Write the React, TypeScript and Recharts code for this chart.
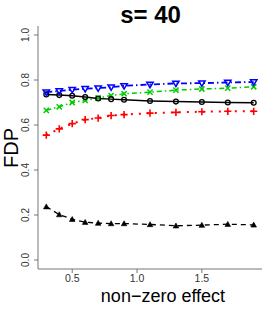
import { CartesianGrid, Line, LineChart, XAxis, YAxis } from 'recharts';

const effects = [0.3, 0.4, 0.5, 0.6, 0.7, 0.8, 0.9, 1.1, 1.3, 1.5, 1.7, 1.9];
const blueFdp = [0.746, 0.751, 0.757, 0.761, 0.764, 0.768, 0.774, 0.78, 0.785, 0.786, 0.789, 0.791];
const greenFdp = [0.665, 0.681, 0.7, 0.709, 0.72, 0.731, 0.739, 0.746, 0.755, 0.76, 0.764, 0.77];
const blackFdp = [0.736, 0.733, 0.73, 0.724, 0.718, 0.715, 0.712, 0.707, 0.704, 0.702, 0.7, 0.699];
const redFdp = [0.555, 0.583, 0.606, 0.624, 0.631, 0.642, 0.646, 0.653, 0.656, 0.659, 0.661, 0.661];
const triFdp = [0.237, 0.202, 0.181, 0.168, 0.164, 0.162, 0.162, 0.158, 0.152, 0.155, 0.159, 0.156];

const xTicks = [0.5, 1.0, 1.5];
const yTicks = [0, 0.2, 0.4, 0.6, 0.8, 1.0];

const data = effects.map((x, i) => ({
  x,
  blue: blueFdp[i],
  green: greenFdp[i],
  black: blackFdp[i],
  red: redFdp[i],
  tri: triFdp[i],
}));

const FONT = '"Liberation Sans", Arial, sans-serif';
const AXIS = '#777';

type DotProps = { cx?: number; cy?: number; index?: number };

const circleDot = ({ cx = 0, cy = 0, index }: DotProps) => (
  <circle key={`c${index}`} cx={cx} cy={cy} r={2.4} fill="none" stroke="#000" strokeWidth={1.3} />
);

const downTriDot = ({ cx = 0, cy = 0, index }: DotProps) => (
  <path
    key={`d${index}`}
    d={`M${cx - 3.2},${cy - 2.2} L${cx + 3.2},${cy - 2.2} L${cx},${cy + 3.2} Z`}
    fill="none"
    stroke="#0000ff"
    strokeWidth={1.5}
  />
);

const crossDot = ({ cx = 0, cy = 0, index }: DotProps) => (
  <path
    key={`x${index}`}
    d={`M${cx - 2.6},${cy - 2.6} L${cx + 2.6},${cy + 2.6} M${cx - 2.6},${cy + 2.6} L${cx + 2.6},${cy - 2.6}`}
    stroke="#00cd00"
    strokeWidth={1.5}
  />
);

const plusDot = ({ cx = 0, cy = 0, index }: DotProps) => (
  <path
    key={`p${index}`}
    d={`M${cx - 3.6},${cy} L${cx + 3.6},${cy} M${cx},${cy - 3.6} L${cx},${cy + 3.6}`}
    stroke="#ff0000"
    strokeWidth={1.6}
  />
);

const triDot = ({ cx = 0, cy = 0, index }: DotProps) => (
  <path
    key={`t${index}`}
    d={`M${cx - 2.8},${cy + 2.2} L${cx + 2.8},${cy + 2.2} L${cx},${cy - 2.8} Z`}
    fill="#000"
    stroke="#000"
    strokeWidth={0.6}
  />
);

const YTick = ({ x = 0, y = 0, payload }: { x?: number; y?: number; payload?: { value: number } }) => (
  <text
    transform={`translate(${x - 3.5},${y}) rotate(-90)`}
    textAnchor="middle"
    fontSize={10}
    fontFamily={FONT}
    fill="#333"
  >
    {payload ? payload.value.toFixed(1) : ''}
  </text>
);

export default function App() {
  return (
    <div style={{ position: 'absolute', left: 0, top: 0, width: 266, height: 310, background: '#fff', fontFamily: FONT }}>
      <LineChart width={266} height={310} data={data} margin={{ top: 26, right: 4, bottom: 0, left: 0 }}>
        <CartesianGrid horizontal={false} vertical={false} />
        <XAxis
          dataKey="x"
          type="number"
          domain={[0.236, 1.964]}
          ticks={xTicks}
          tickFormatter={(v: number) => v.toFixed(1)}
          height={41}
          tickSize={4}
          stroke={AXIS}
          tick={{ fontSize: 10.5, fill: '#333', fontFamily: FONT }}
          allowDataOverflow
        />
        <XAxis xAxisId="top" dataKey="x" type="number" domain={[0.236, 1.964]} orientation="top" height={0} tick={false} tickLine={false} stroke={AXIS} />
        <YAxis
          type="number"
          domain={[-0.04, 1.04]}
          ticks={yTicks}
          width={38}
          tickSize={4}
          stroke={AXIS}
          tick={<YTick />}
          allowDataOverflow
        />
        <YAxis yAxisId="right" orientation="right" domain={[-0.04, 1.04]} width={0} tick={false} tickLine={false} stroke={AXIS} />
        <Line dataKey="tri" stroke="#000" strokeWidth={1.3} strokeDasharray="5 4" dot={triDot} isAnimationActive={false} />
        <Line dataKey="red" stroke="#ff0000" strokeWidth={2} strokeDasharray="2 6" dot={plusDot} isAnimationActive={false} />
        <Line dataKey="green" stroke="#00cd00" strokeWidth={1.5} strokeDasharray="5 3 1.5 3" dot={crossDot} isAnimationActive={false} />
        <Line dataKey="black" stroke="#000" strokeWidth={1.5} dot={circleDot} isAnimationActive={false} />
        <Line dataKey="blue" stroke="#0000ff" strokeWidth={1.8} strokeDasharray="6 3 1.5 3" dot={downTriDot} isAnimationActive={false} />
      </LineChart>
      <div style={{ position: 'absolute', left: 0, width: 301, top: 1, textAlign: 'center', fontSize: 24, fontWeight: 'bold', lineHeight: '28px', color: '#000' }}>
        s= 40
      </div>
      <div
        style={{
          position: 'absolute',
          left: 11,
          top: 148,
          transform: 'translate(-50%, -50%) rotate(-90deg)',
          fontSize: 20,
          lineHeight: '20px',
          whiteSpace: 'nowrap',
          color: '#000',
        }}
      >
        FDP
      </div>
      <div style={{ position: 'absolute', left: 63, width: 200, top: 286, textAlign: 'center', fontSize: 18, lineHeight: '20px', color: '#000', whiteSpace: 'nowrap' }}>
        non−zero effect
      </div>
    </div>
  );
}
